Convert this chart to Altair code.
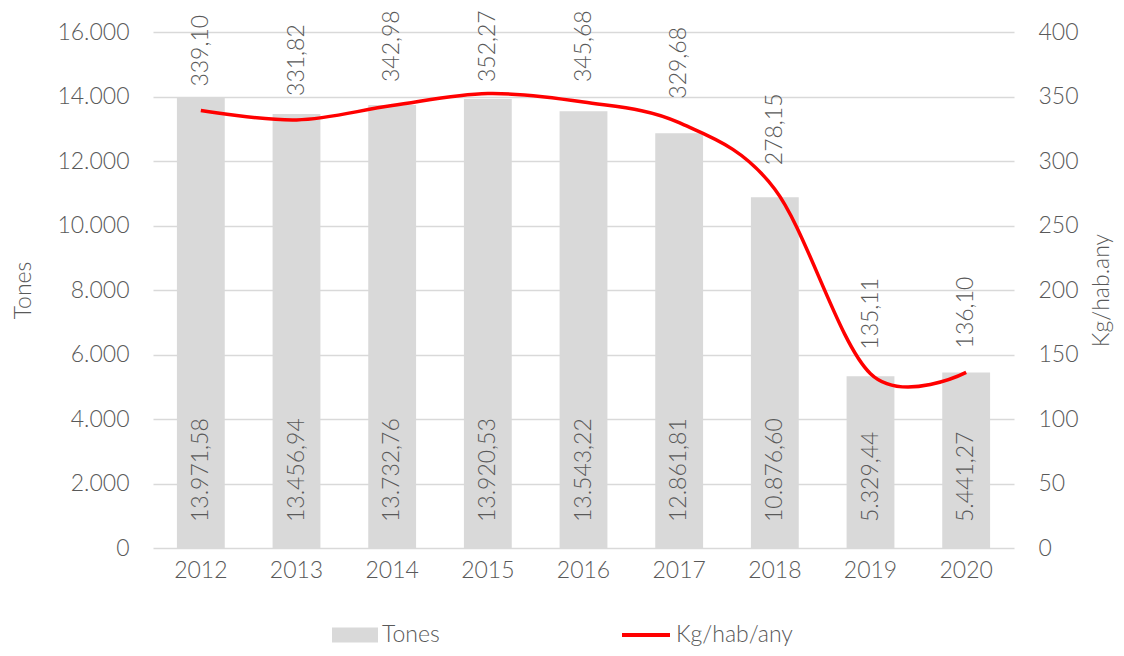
import altair as alt
import pandas as pd

years = ["2012", "2013", "2014", "2015", "2016", "2017", "2018", "2019", "2020"]
tones = [13971.58, 13456.94, 13732.76, 13920.53, 13543.22, 12861.81, 10876.60, 5329.44, 5441.27]
kg = [339.10, 331.82, 342.98, 352.27, 345.68, 329.68, 278.15, 135.11, 136.10]

left_ticks = list(range(0, 16001, 2000))
right_ticks = list(range(0, 401, 50))


def es(v):
    s = f"{v:,.2f}"
    return s.replace(",", "X").replace(".", ",").replace("X", ".")


df = pd.DataFrame({
    "year": years,
    "tones": tones,
    "kg": kg,
    "tones_lab": [es(v) for v in tones],
    "kg_lab": [es(v) for v in kg],
})

FONT = "Lato"
FW = 300
TXT = "#595959"
GRID = "#d9d9d9"
FS = 23

xenc = alt.X(
    "year:N",
    sort=years,
    scale=alt.Scale(paddingInner=0.5, paddingOuter=0.25),
    axis=alt.Axis(
        title=None, labelAngle=0, ticks=False, domain=False, grid=False,
        labelFont=FONT, labelFontSize=FS, labelFontWeight=FW, labelColor=TXT, labelPadding=11,
    ),
)

left_scale = alt.Scale(domain=[0, 16000], nice=False)
right_scale = alt.Scale(domain=[0, 400], nice=False)

bars = alt.Chart(df).mark_bar(color=GRID).transform_calculate(
    series="'Tones'"
).encode(
    x=xenc,
    y=alt.Y(
        "tones:Q", scale=left_scale,
        axis=alt.Axis(
            orient="left", values=left_ticks,
            labelExpr="replace(format(datum.value, ',.0f'), ',', '.')",
            ticks=False, domain=False, grid=True, gridColor=GRID, gridWidth=1.5,
            labelFont=FONT, labelFontSize=FS, labelFontWeight=FW, labelColor=TXT, labelPadding=24,
            title="Tones", titleFont=FONT, titleFontSize=FS, titleFontWeight=FW,
            titleColor=TXT, titlePadding=21,
        ),
    ),
    color=alt.Color(
        "series:N",
        scale=alt.Scale(domain=["Tones"], range=[GRID]),
        legend=alt.Legend(
            title=None, orient="none", legendX=179, legendY=580, direction="horizontal",
            labelFont=FONT, labelFontSize=FS, labelFontWeight=FW, labelColor=TXT,
            symbolType="M-1,-0.33L1,-0.33L1,0.33L-1,0.33Z", symbolSize=2116,
            symbolStrokeWidth=0, symbolOpacity=1, labelOffset=4,
        ),
    ),
)

bar_text = alt.Chart(df).mark_text(
    angle=270, align="left", baseline="middle", dx=26,
    font=FONT, fontSize=FS, fontWeight=FW, color=TXT,
).encode(
    x=xenc,
    y=alt.YDatum(0, scale=left_scale, axis=None),
    text="tones_lab:N",
)

line = alt.Chart(df).mark_line(
    interpolate="cardinal", tension=0, strokeWidth=3.5,
).transform_calculate(
    series="'Kg/hab/any'"
).encode(
    x=xenc,
    y=alt.Y(
        "kg:Q", scale=right_scale,
        axis=alt.Axis(
            orient="right", values=right_ticks, format="d",
            ticks=False, domain=False, grid=False,
            labelFont=FONT, labelFontSize=FS, labelFontWeight=FW, labelColor=TXT, labelPadding=24,
            title="Kg/hab.any", titleFont=FONT, titleFontSize=FS, titleFontWeight=FW,
            titleColor=TXT, titlePadding=35, titleAngle=270,
        ),
    ),
    stroke=alt.Stroke(
        "series:N",
        scale=alt.Scale(domain=["Kg/hab/any"], range=["#ff0000"]),
        legend=alt.Legend(
            title=None, orient="none", legendX=467, legendY=577, direction="horizontal",
            labelFont=FONT, labelFontSize=FS, labelFontWeight=FW, labelColor=TXT,
            symbolType="stroke", symbolSize=2304, symbolStrokeWidth=4, labelOffset=4,
        ),
    ),
)

line_text = alt.Chart(df).transform_calculate(
    lab_y="min(datum.kg, 342.6)"
).mark_text(
    angle=270, align="left", baseline="middle", dx=24,
    font=FONT, fontSize=FS, fontWeight=FW, color=TXT,
).encode(
    x=xenc,
    y=alt.Y("lab_y:Q", scale=right_scale, axis=None),
    text="kg_lab:N",
)

chart = alt.layer(bars, bar_text, line, line_text).resolve_scale(
    y="independent", color="independent"
).properties(
    width=861,
    height=516,
    padding={"left": 145, "top": 24, "right": 102, "bottom": 100},
    autosize=alt.AutoSizeParams(type="none"),
).configure_view(stroke=None)

chart.save("out.html", embed_options={"renderer": "svg", "actions": False})
